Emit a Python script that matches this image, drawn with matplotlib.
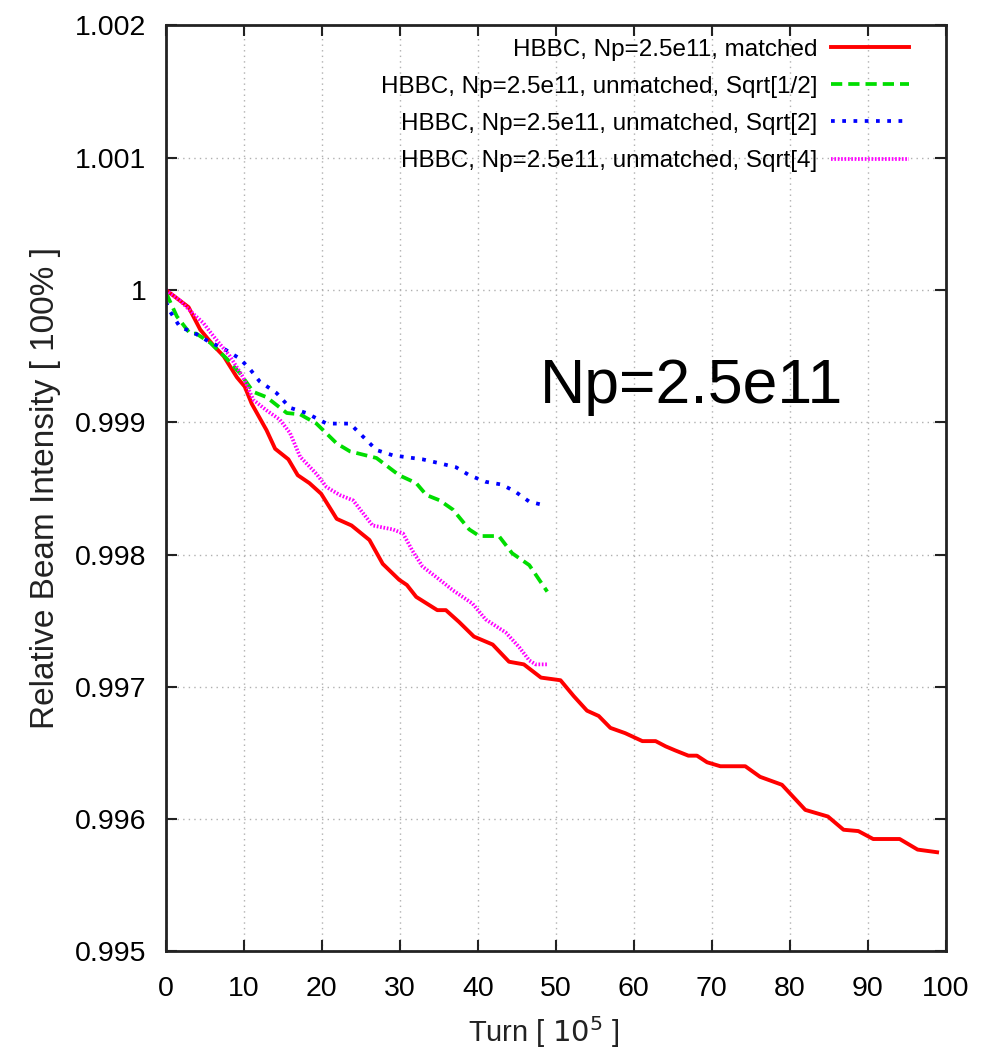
import matplotlib
matplotlib.use("Agg")
import matplotlib.pyplot as plt
from matplotlib import font_manager

names = {f.name for f in font_manager.fontManager.ttflist}
NARROW = 'Liberation Sans Narrow' if 'Liberation Sans Narrow' in names else 'Liberation Sans'

# ---------------- data ----------------
red_x = [0, 2.9, 4.4, 6.1, 7.4, 9.1, 10.1, 11, 12.9, 14, 15.7, 16.9, 18.4, 19.9, 21.9, 23.8,
         26.1, 27.8, 29.9, 30.9, 32.1, 34.8, 35.9, 37.6, 39.5, 41.9, 44, 45.9, 48.1, 50.6,
         52.3, 54, 55.5, 57, 58.9, 61.1, 62.8, 64.1, 65.3, 67, 68.1, 69.4, 71.1, 74.3, 76.2,
         79, 82, 84.9, 86.9, 88.8, 90.7, 94.1, 96.4, 98.9]
red_y = [1.0, 0.99987, 0.99970, 0.99958, 0.99950, 0.99934, 0.99927, 0.99914, 0.99894, 0.99880,
         0.99872, 0.99860, 0.99854, 0.99846, 0.99827, 0.99822, 0.99811, 0.99793, 0.99781,
         0.99777, 0.99768, 0.99758, 0.99758, 0.99749, 0.99738, 0.99732, 0.99719, 0.99717,
         0.99707, 0.99705, 0.99693, 0.99682, 0.99678, 0.99669, 0.99665, 0.99659, 0.99659,
         0.99655, 0.99652, 0.99648, 0.99648, 0.99643, 0.99640, 0.99640, 0.99632, 0.99626,
         0.99607, 0.99602, 0.99592, 0.99591, 0.99585, 0.99585, 0.99577, 0.99575]

green_x = [0, 1.4, 3.1, 3.9, 5.7, 7.8, 9.5, 11.2, 12.9, 15.5, 17.2, 19.3, 21.9, 23.6, 27,
           29.9, 32.1, 33.4, 35.1, 36.8, 38.9, 40.2, 42.7, 44.4, 46.6, 48.9]
green_y = [0.99998, 0.99980, 0.99967, 0.99967, 0.99960, 0.99948, 0.99937, 0.99923, 0.99919,
           0.99907, 0.99906, 0.99899, 0.99884, 0.99878, 0.99873, 0.99860, 0.99854, 0.99845,
           0.99841, 0.99834, 0.99819, 0.99814, 0.99814, 0.99801, 0.99792, 0.99772]

blue_x = [0, 0.5, 1.8, 3.5, 5.2, 7.6, 9.5, 10.8, 12, 14.2, 15.9, 18, 20.6, 23.6, 25.3, 27,
          29.1, 32.9, 35.1, 37.2, 38.9, 41, 43, 44.7, 46.6, 48.7]
blue_y = [0.99991, 0.99984, 0.99972, 0.99968, 0.99962, 0.99955, 0.99948, 0.99940, 0.99931,
          0.99922, 0.99911, 0.99907, 0.99899, 0.99899, 0.99889, 0.99879, 0.99875, 0.99872,
          0.99869, 0.99866, 0.99860, 0.99855, 0.99853, 0.99848, 0.99840, 0.99837]

mag_x = [0, 1.8, 3.5, 4.8, 6.1, 8.2, 9.9, 11.2, 12.9, 14.6, 15.9, 17.2, 19.3, 20.6, 22.3, 24,
         26.5, 29.1, 30.4, 31.6, 32.9, 35.1, 36.8, 39.3, 41, 43.6, 45.3, 46.6, 47.4, 48.9]
mag_y = [1.0, 0.99992, 0.99982, 0.99975, 0.99965, 0.99950, 0.99934, 0.99917, 0.99909, 0.99902,
         0.99892, 0.99874, 0.99861, 0.99851, 0.99845, 0.99841, 0.99822, 0.99819, 0.99816,
         0.99803, 0.99791, 0.99781, 0.99773, 0.99763, 0.99751, 0.99741, 0.99730, 0.99720,
         0.99717, 0.99717]

labels = ["HBBC, Np=2.5e11, matched",
          "HBBC, Np=2.5e11, unmatched, Sqrt[1/2]",
          "HBBC, Np=2.5e11, unmatched, Sqrt[2]",
          "HBBC, Np=2.5e11, unmatched, Sqrt[4]"]

x_ticks = [0, 10, 20, 30, 40, 50, 60, 70, 80, 90, 100]
y_ticks = [0.995, 0.996, 0.997, 0.998, 0.999, 1.0, 1.001, 1.002]
y_tick_labels = ["0.995", "0.996", "0.997", "0.998", "0.999", "1", "1.001", "1.002"]

# ---------------- figure ----------------
fig = plt.figure(figsize=(9.82, 10.58), dpi=100)
ax = fig.add_axes([0.169, 0.1007, 0.794, 0.8753])

ax.plot(red_x, red_y, color='#ff0000', lw=2.8, solid_joinstyle='round', label=labels[0])
ax.plot(green_x, green_y, color='#00dd00', lw=2.7, linestyle=(0, (3.0, 1.6)), label=labels[1])
ax.plot(blue_x, blue_y, color='#0000ff', lw=2.7, linestyle=(0, (1.0, 2.0)), label=labels[2])
ax.plot(mag_x, mag_y, color='#ff00ff', lw=2.7, linestyle=(0, (0.45, 0.45)), label=labels[3])

ax.set_xlim(0, 100)
ax.set_ylim(0.995, 1.002)
ax.set_xticks(x_ticks)
ax.set_xticklabels([str(v) for v in x_ticks], fontfamily=NARROW, fontsize=20.5)
ax.set_yticks(y_ticks)
ax.set_yticklabels(y_tick_labels, fontfamily=NARROW, fontsize=20.5)

ax.tick_params(direction='in', length=8, width=1.5, top=True, right=True, color='#222222')
ax.tick_params(axis='y', pad=14)
ax.tick_params(axis='x', pad=18)
for s in ax.spines.values():
    s.set_linewidth(2.0)
    s.set_color('#222222')

ax.grid(True, color='#b0b0b0', linestyle=(0, (1, 3)), linewidth=1.0)

ax.set_ylabel("Relative Beam Intensity [ 100% ]", fontfamily='Liberation Sans', fontsize=24,
              labelpad=10, color='#222222')
ax.set_xlabel("Turn [ $10^5$ ]", fontfamily=NARROW, fontsize=21, color='#222222')
ax.xaxis.set_label_coords(0.485, -0.068)
ax.xaxis.label.set_va('top')

ax.text(47.9, 0.99927, "Np=2.5e11", fontfamily='Liberation Sans', fontsize=45,
        ha='left', va='center', color='black')

leg = ax.legend(loc='upper right', frameon=False, markerfirst=False,
                prop={'family': NARROW, 'size': 17.5}, handlelength=3.2,
                labelspacing=0.62, borderaxespad=0.0, handletextpad=0.55,
                bbox_to_anchor=(0.965, 0.996))

fig.savefig("out.png", dpi=100)
